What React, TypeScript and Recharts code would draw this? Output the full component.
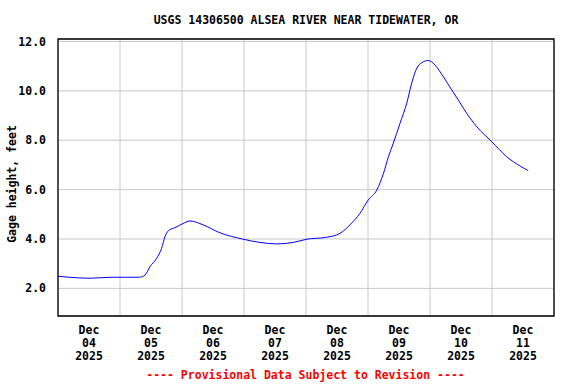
import { LineChart, Line, XAxis, YAxis, CartesianGrid, ReferenceArea } from 'recharts'

// hours since Dec 04 2025 00:00
const hours = [
  0, 4.3, 12.4, 20.8, 31.5, 33.7, 35.6, 38.2, 40.1, 41.4, 42.7, 45.3, 48.1, 51.1,
  56.2, 62.7, 71.7, 78.2, 84.7, 91.1, 96.3, 104, 109.2, 113, 116.9, 120.1, 123.4,
  126, 127.9, 129.7, 132.4, 135, 136.9, 138.9, 140.8, 143.3, 145.9, 149.1, 152.4,
  155.2, 158.2, 162.1, 167.9, 173.7, 178.8, 182,
]
const gageHeight = [
  2.49, 2.45, 2.41, 2.45, 2.45, 2.54, 2.88, 3.22, 3.62, 4.09, 4.33, 4.46, 4.61, 4.73,
  4.57, 4.25, 3.99, 3.86, 3.8, 3.86, 3.99, 4.07, 4.23, 4.57, 5.04, 5.58, 5.98,
  6.66, 7.33, 7.85, 8.69, 9.5, 10.31, 10.92, 11.14, 11.23, 11.05, 10.58, 10.04,
  9.59, 9.09, 8.55, 7.94, 7.33, 6.96, 6.77,
]
const dayLines = [0, 24, 48, 72, 96, 120, 144, 168, 192]
const dayLabelPos = [12, 36, 60, 84, 108, 132, 156, 180]
const dayLabels = ['04', '05', '06', '07', '08', '09', '10', '11']
const yTicks = [2, 4, 6, 8, 10, 12]
const yMin = 0.88
const yMax = 12.1

const data = hours.map((h, i) => ({ h, v: gageHeight[i] }))

const font = '"DejaVu Sans Mono", monospace'

function DayTick(props: any) {
  const { x, y, payload } = props
  const i = dayLabelPos.indexOf(payload.value)
  return (
    <text x={x} y={y} textAnchor="middle" fontFamily={font} fontSize={11.5} fontWeight="bold" fill="#000">
      <tspan x={x} dy={10}>Dec</tspan>
      <tspan x={x} dy={13}>{dayLabels[i]}</tspan>
      <tspan x={x} dy={13}>2025</tspan>
    </text>
  )
}

export default function App() {
  return (
    <div style={{ position: 'absolute', left: 0, top: 0, width: 576, height: 384, background: '#fff' }}>
      <LineChart width={576} height={384} data={data} margin={{ top: 39, right: 22, bottom: 0, left: 0 }}>
        <CartesianGrid xAxisId="grid" stroke="#c8c8c8" verticalValues={dayLines} />
        <XAxis xAxisId="grid" dataKey="h" type="number" domain={[0, 192]} ticks={dayLines} height={0} hide />
        <XAxis
          xAxisId="lab"
          dataKey="h"
          type="number"
          domain={[0, 192]}
          ticks={dayLabelPos}
          tick={<DayTick />}
          tickLine={false}
          axisLine={false}
          height={68}
        />
        <YAxis
          type="number"
          domain={[yMin, yMax]}
          ticks={yTicks}
          allowDataOverflow
          width={58}
          tickLine={false}
          axisLine={false}
          tickFormatter={(v) => v.toFixed(1)}
          tick={{ fill: '#000', fontFamily: font, fontSize: 11.5, fontWeight: 'bold' }}
          tickMargin={6}
        />
        <ReferenceArea xAxisId="grid" x1={0} x2={192} y1={yMin} y2={yMax} fill="none" stroke="#000" strokeWidth={1.3} />
        <Line
          xAxisId="grid"
          type="monotone"
          dataKey="v"
          stroke="#0000ff"
          strokeWidth={1}
          dot={false}
          isAnimationActive={false}
        />
      </LineChart>
      <div style={{ position: 'absolute', left: 0, width: 612, top: 12, textAlign: 'center', fontFamily: font, fontSize: 11.5, fontWeight: 'bold', color: '#000', lineHeight: '16px' }}>
        USGS 14306500 ALSEA RIVER NEAR TIDEWATER, OR
      </div>
      <div style={{ position: 'absolute', left: 12 - 100, top: 184 - 8, width: 200, textAlign: 'center', transform: 'rotate(-90deg)', fontFamily: font, fontSize: 11.5, fontWeight: 'bold', color: '#000', lineHeight: '16px' }}>
        Gage height, feet
      </div>
      <div style={{ position: 'absolute', left: 0, width: 611, top: 367, textAlign: 'center', fontFamily: font, fontSize: 11.5, fontWeight: 'bold', color: '#ff0000', lineHeight: '16px' }}>
        ---- Provisional Data Subject to Revision ----
      </div>
    </div>
  )
}
